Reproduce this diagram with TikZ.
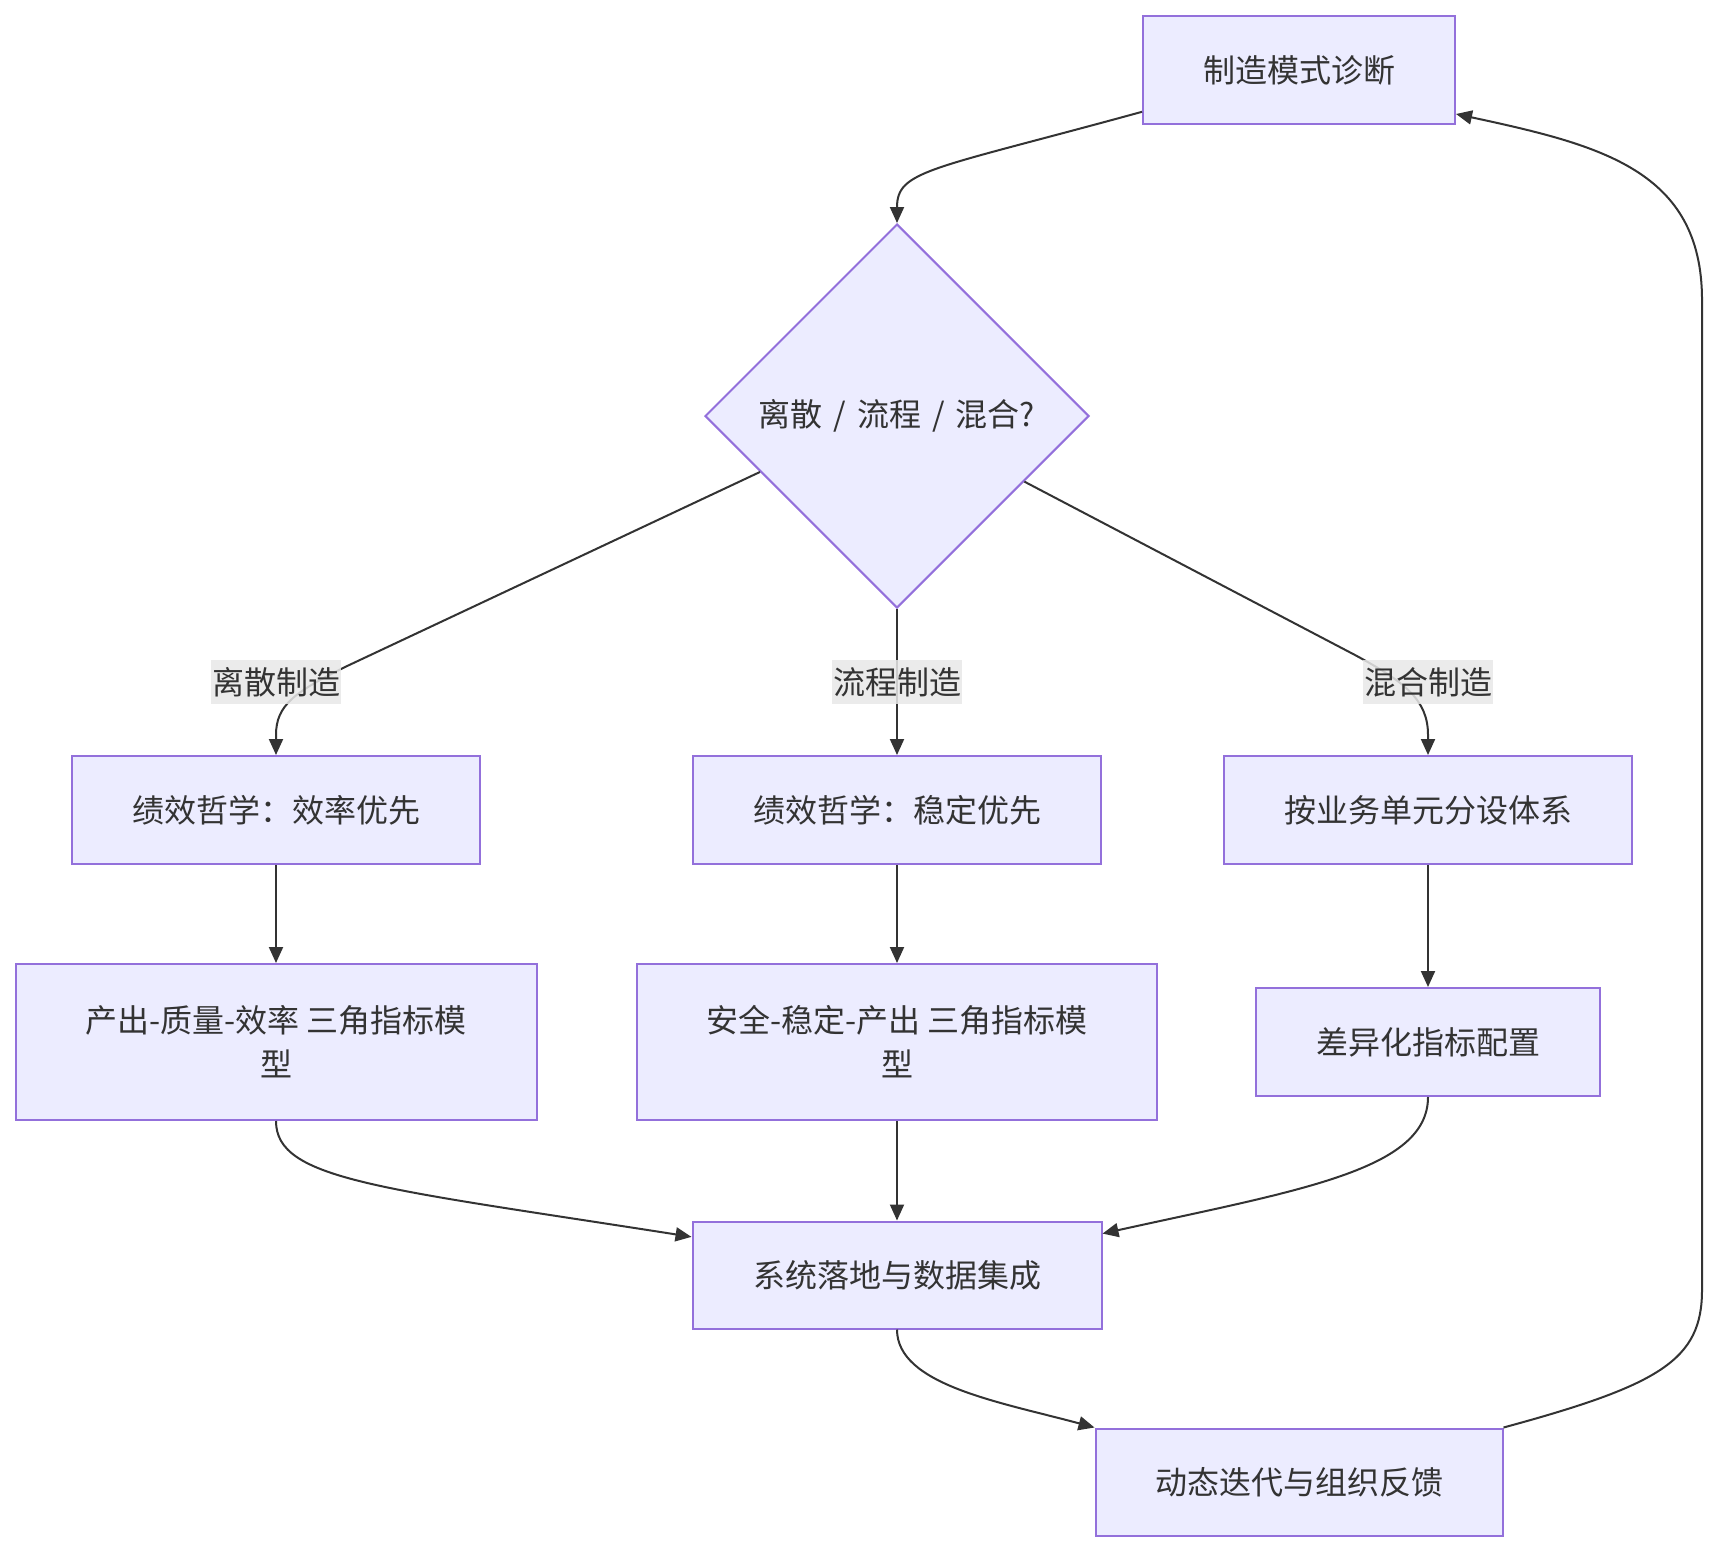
\documentclass[tikz,border=0pt]{standalone}
\usepackage{fontspec}
\setmainfont{Noto Sans CJK SC}
\usetikzlibrary{shapes.geometric,arrows.meta,calc}
\definecolor{boxfill}{HTML}{ECECFF}
\definecolor{boxline}{HTML}{9370DB}
\definecolor{ink}{HTML}{333333}
\definecolor{lblfill}{HTML}{E8E8E8}
\begin{document}
\begin{tikzpicture}[x=1pt, y=-1pt,
    box/.style={rectangle, draw=boxline, fill=boxfill, line width=2pt, inner sep=0pt, minimum height=108pt, align=center, text=ink, font=\fontsize{32}{44}\selectfont},
    decision/.style={diamond, draw=boxline, fill=boxfill, line width=2pt, inner sep=0pt, aspect=1, minimum width=384pt, minimum height=384pt, text=ink, font=\fontsize{32}{44}\selectfont},
    lbl/.style={fill=lblfill, fill opacity=0.85, text opacity=1, inner xsep=1pt, inner ysep=7pt, text=ink, font=\fontsize{32}{40}\selectfont},
    arrow/.style={-{Triangle[length=16pt,width=14pt]}, draw=ink, line width=2pt}
]
\useasboundingbox (0,0) rectangle (1718,1551);

% Boxes
\node[box, minimum width=312pt] (diag) at (1299,70) {制造模式诊断};
\node[decision] (kind) at (897,416) {离散\hspace{11pt}/\hspace{11pt}流程\hspace{11pt}/\hspace{11pt}混合?};
\node[box, minimum width=408pt] (effi) at (276,810) {绩效哲学：效率优先};
\node[box, minimum width=408pt] (stab) at (897,810) {绩效哲学：稳定优先};
\node[box, minimum width=408pt] (unit) at (1428,810) {按业务单元分设体系};
\node[box, minimum width=521pt, minimum height=156pt] (triA) at (276,1042) {产出-质量-效率 三角指标模\\型};
\node[box, minimum width=520pt, minimum height=156pt] (triB) at (897,1042) {安全-稳定-产出 三角指标模\\型};
\node[box, minimum width=344pt] (conf) at (1428,1042) {差异化指标配置};
\node[box, minimum width=409pt, minimum height=107pt] (sys) at (897,1275) {系统落地与数据集成};
\node[box, minimum width=407pt, minimum height=107pt] (loop) at (1299,1482) {动态迭代与组织反馈};

% Arrows
\draw[arrow] ($(diag.south west)!0.12!(diag.north west)$) .. controls (930,170) and (897,170) .. (kind.north);
\draw[arrow] ($(kind.west)!0.29!(kind.south)$) -- (345,667) .. controls (295,692) and (276,705) .. (276,735) -- (effi.north);
\draw[arrow] (kind.south) -- (stab.north);
\draw[arrow] ($(kind.east)!0.34!(kind.south)$) -- (1355,655) .. controls (1405,682) and (1428,700) .. (1428,735) -- (unit.north);
\draw[arrow] (effi) -- (triA);
\draw[arrow] (stab) -- (triB);
\draw[arrow] (unit) -- (conf);
\draw[arrow] (triA.south) .. controls (276,1180) and (380,1188) .. ($(sys.north west)!0.15!(sys.south west)$);
\draw[arrow] (triB) -- (sys);
\draw[arrow] (conf.south) .. controls (1428,1170) and (1300,1190) .. ($(sys.north east)!0.12!(sys.south east)$);
\draw[arrow] (sys.south) .. controls (897,1385) and (1000,1402) .. (loop.north west);
\draw[arrow] (loop.north east) .. controls (1660,1385) and (1702,1360) .. (1702,1290) -- (1702,300) .. controls (1702,170) and (1600,145) .. ($(diag.south east)!0.1!(diag.north east)$);

% Labels
\node[lbl] (lblA) at (276,682) {离散制造};
\node[lbl] (lblB) at (897,682) {流程制造};
\node[lbl] (lblC) at (1428,682) {混合制造};
\end{tikzpicture}
\end{document}
